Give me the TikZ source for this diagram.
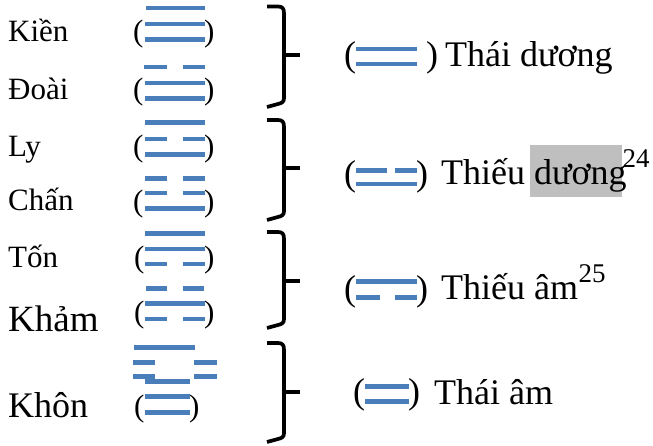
\documentclass[tikz,border=0pt]{standalone}
\usepackage{fontspec}
\setmainfont{Liberation Serif}
\usetikzlibrary{positioning}
\definecolor{haoblue}{HTML}{4A7EBB}
\definecolor{hlgray}{HTML}{BFBFBF}
\tikzset{
  hao/.style={line width=4.5pt, haoblue},
  bracepath/.style={line width=3.7pt, line join=round},
  txt/.style={inner sep=0pt, anchor=base west, font=\fontsize{31}{36}\selectfont},
  bigtxt/.style={inner sep=0pt, anchor=base west, font=\fontsize{36}{42}\selectfont},
  suptxt/.style={inner sep=0pt, anchor=base west, font=\fontsize{27}{32}\selectfont},
}
\begin{document}
\begin{tikzpicture}[x=1pt, y=-1pt]
\useasboundingbox (0,0) rectangle (653,446);
% names of the trigrams
\node[txt] (kien) at (8,41.7){Kiền};
\node[txt] (doai) at (8,100){Đoài};
\node[txt] (ly) at (8,157){Ly};
\node[txt] (chan) at (8,211){Chấn};
\node[txt] (ton) at (8,268){Tốn};
\node[txt, font=\fontsize{37}{42}\selectfont] (kham) at (8,331){Khảm};
\node[txt, font=\fontsize{36}{42}\selectfont] (khon) at (8,417){Khôn};
% brackets round the trigrams
\node[txt] (kienL) at (133,41.7){(};
\node[txt] (kienR) at (204,41.7){)};
\node[txt] (doaiL) at (133,99.5){(};
\node[txt] (doaiR) at (204,99.5){)};
\node[txt] (lyL) at (133,157){(};
\node[txt] (lyR) at (204,157){)};
\node[txt] (chanL) at (133,212){(};
\node[txt] (chanR) at (204,212){)};
\node[txt] (tonL) at (134,267.5){(};
\node[txt] (tonR) at (204,267.5){)};
\node[txt] (khamL) at (134,322.5){(};
\node[txt] (khamR) at (204,322.5){)};
\node[txt] (khonL) at (134,416.5){(};
\node[txt] (khonR) at (189,416.5){)};
% Kien
\draw[hao] (146,8) -- (205,8);
\draw[hao] (145,24) -- (205,24);
\draw[hao] (145,39.5) -- (205,39.5);
% Doai
\draw[hao] (144,67) -- (167,67) (183,67) -- (205,67);
\draw[hao] (145,83) -- (205,83);
\draw[hao] (145,98.7) -- (205,98.7);
% Ly
\draw[hao] (145,122.5) -- (205,122.5);
\draw[hao] (145,139) -- (167,139) (183,139) -- (205,139);
\draw[hao] (145,154.5) -- (205,154.5);
% Chan
\draw[hao] (145,178.5) -- (167,178.5) (183,178.5) -- (205,178.5);
\draw[hao] (145,193) -- (167,193) (183,193) -- (205,193);
\draw[hao] (145,208.5) -- (205,208.5);
% Ton
\draw[hao] (145,233.3) -- (205,233.3);
\draw[hao] (145,249) -- (205,249);
\draw[hao] (145,264) -- (167,264) (183,264) -- (205,264);
% Kham
\draw[hao] (146,288.3) -- (167,288.3) (183,288.3) -- (204,288.3);
\draw[hao] (145,303.3) -- (205,303.3);
\draw[hao] (145,319) -- (167,319) (183,319) -- (205,319);
% Khon
\draw[hao] (134,347.5) -- (195,347.5);
\draw[hao] (133,362.5) -- (155,362.5) (194,362.5) -- (217,362.5);
\draw[hao] (133,376.5) -- (155,376.5) (194,376.5) -- (217,376.5);
\foreach \y in {381.5,396.5,412.5}
  \draw[hao] (145,\y) -- (166.6,\y) (167.4,\y) -- (190,\y);
% braces
\foreach \t/\m/\b in {6.5/55/107, 120/168/220, 232/281/328, 343/392/442}{
  \draw[bracepath] (267,\t) -- (278,\t) .. controls (282.5,\t) and (284,\t+2) .. (284,\t+7)
    -- (284,\b-9) .. controls (284,\b-5) and (282,\b-4) .. (278,\b-3) -- (267,\b);
  \draw[bracepath] (284,\m) -- (300,\m);
}
% highlight
\fill[hlgray] (530,145) rectangle (622,197);
% right column
\node[bigtxt] (thaiduongL) at (344,67){(};
\draw[hao] (356,49) -- (417,49);
\draw[hao] (356,64) -- (417,64);
\node[bigtxt] (thaiduongR) at (426,67){)};
\node[bigtxt] (thaiduong) at (445,67){Thái dương};
\node[bigtxt] (thieuduongL) at (344,185.5){(};
\draw[hao] (356,170.5) -- (387,170.5) (395,170.5) -- (417,170.5);
\draw[hao] (356,184) -- (417,184);
\node[bigtxt] (thieuduongR) at (416,185.5){)};
\node[bigtxt] (thieuduong) at (441,185){Thiếu dương};
\node[suptxt] (sup24) at (622.5,168){24};
\node[bigtxt] (thieuamL) at (344,300.5){(};
\draw[hao] (356,281.5) -- (417,281.5);
\draw[hao] (356,297.5) -- (380,297.5) (395,297.5) -- (417,297.5);
\node[bigtxt] (thieuamR) at (416,300.5){)};
\node[bigtxt] (thieuam) at (441,299){Thiếu âm};
\node[suptxt] (sup25) at ([yshift=16pt]thieuam.base east){25};
\node[bigtxt] (thaiamL) at (353,403.5){(};
\draw[hao] (365,386.5) -- (386.6,386.5) (387.4,386.5) -- (409,386.5);
\draw[hao] (365,401.5) -- (386.6,401.5) (387.4,401.5) -- (409,401.5);
\node[bigtxt] (thaiamR) at (408,403.5){)};
\node[bigtxt] (thaiam) at (434,404){Thái âm};
\end{tikzpicture}
\end{document}
